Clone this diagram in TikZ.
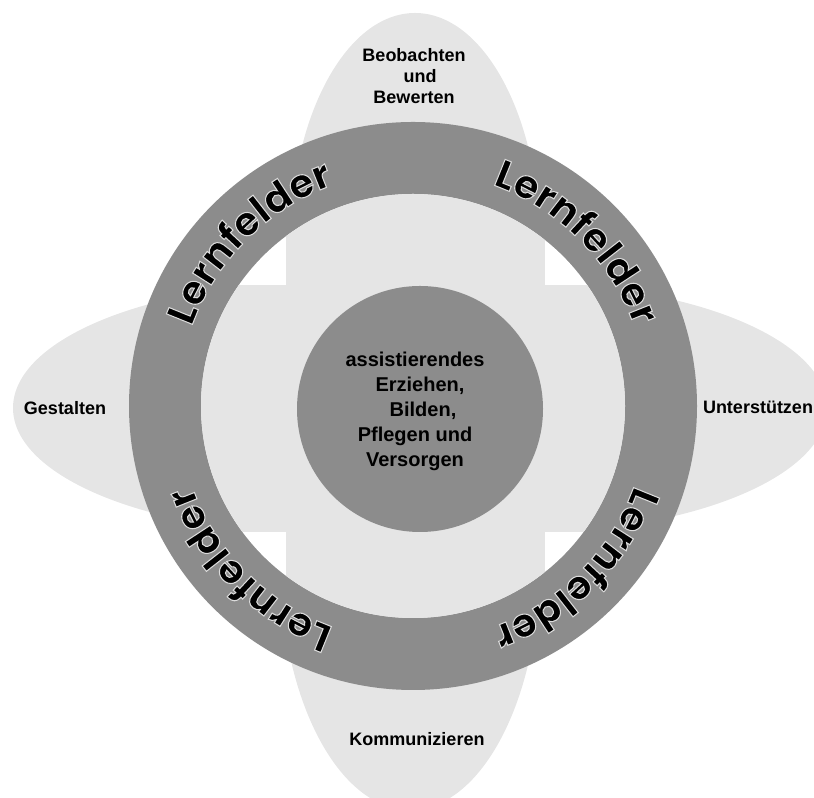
\documentclass[tikz,border=0pt]{standalone}
\usepackage{fontspec}
\setmainfont{Liberation Sans}
\newfontfamily\lffont{Poppins}
\usetikzlibrary{decorations.text}
\newcommand\lfchar[1]{\special{pdf:literal direct 2 Tr 0.8 w 0.86 G}#1\special{pdf:literal direct 0 Tr}}
\tikzset{
  petal/.style={fill=black!10},
  ringfill/.style={fill=black!45},
  lbl/.style={font=\bfseries\fontsize{13.5}{15.75}\selectfont, align=center},
  lernfeld/.style={decorate, decoration={text effects along path,
    text={Lernfelder}, text align=center,
    text effects/.cd, text along path,
    characters={text=black, font=\lffont\bfseries\fontsize{30}{30}\selectfont},
    character command=\lfchar}}
}
\begin{document}
\begin{tikzpicture}[x=0.75pt, y=0.75pt]
  \useasboundingbox (0,0) rectangle (814,798);
  \coordinate (c) at (413,392);
  \fill[petal] (415,552) ellipse [x radius=125, y radius=233];
  \fill[petal] (410,238) ellipse [x radius=130, y radius=250];
  \fill[petal] (320,390) ellipse [x radius=307, y radius=125];
  \fill[petal] (520,390) ellipse [x radius=307, y radius=125];
  \fill[ringfill] (c) circle [radius=284];
  \fill[white] (c) circle [radius=212];
  \begin{scope}
    \clip (c) circle [radius=212];
    \fill[petal] (286,0) rectangle (545,798);
    \fill[petal] (0,266) rectangle (814,513);
  \end{scope}
  \fill[ringfill] (420,389) circle [radius=123];
  \path[lernfeld] (c) ++(180:235) arc [start angle=180, end angle=90, radius=235];
  \path[lernfeld] (c) ++(90:235) arc [start angle=90, end angle=0, radius=235];
  \path[lernfeld] (c) ++(270:235) arc [start angle=270, end angle=180, radius=235];
  \path[lernfeld] (c) ++(0:235) arc [start angle=360, end angle=270, radius=235];
  \node[lbl] (beob) at (414,722) {Beobachten\\\hspace*{9pt}und\\Bewerten};
  \node[lbl] (gest) at (65,390) {Gestalten};
  \node[lbl] (unter) at (758,391) {Unterstützen};
  \node[lbl] (komm) at (417,59) {Kommunizieren};
  \node[lbl, font=\bfseries\fontsize{15}{18.75}\selectfont] (mitte) at (415,387)
    {assistierendes\\\hspace*{7.5pt}Erziehen,\\\hspace*{12pt}Bilden,\\Pflegen und\\Versorgen};
\end{tikzpicture}
\end{document}
